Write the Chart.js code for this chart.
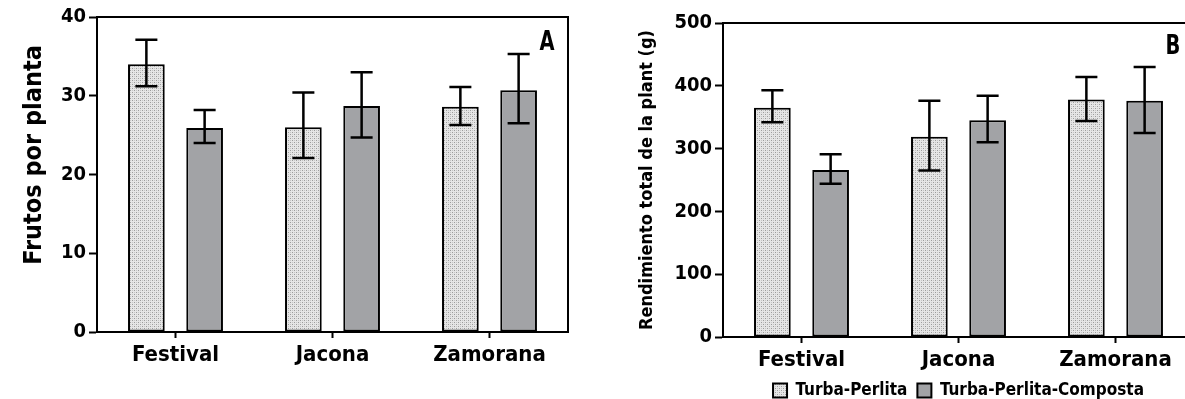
<!DOCTYPE html>
<html>
<head>
<meta charset="utf-8">
<script src="https://cdn.jsdelivr.net/npm/chart.js@4.4.0/dist/chart.umd.min.js"></script>
<style>
  html, body { margin: 0; padding: 0; background: #fff; overflow: hidden; width: 1185px; height: 399px; }
  #wrapA { position: absolute; left: 0; top: 0; width: 590px; height: 399px; }
  #wrapB { position: absolute; left: 595px; top: 0; width: 600px; height: 409px; }
</style>
</head>
<body>
<div id="wrapA"><canvas id="chartA"></canvas></div>
<div id="wrapB"><canvas id="chartB"></canvas></div>
<script>
const cultivars = ['Festival', 'Jacona', 'Zamorana'];
const seriesNames = ['Turba-Perlita', 'Turba-Perlita-Composta'];

// A - frutos por planta
const frutosTP = [34.0, 26.0, 28.6];
const frutosTPLow = [31.2, 22.1, 26.3];
const frutosTPHigh = [37.1, 30.4, 31.1];
const frutosTPC = [25.9, 28.7, 30.7];
const frutosTPCLow = [24.0, 24.7, 26.5];
const frutosTPCHigh = [28.2, 33.0, 35.3];
const frutosTicks = [0, 10, 20, 30, 40];

// B - rendimiento total (g)
const rendTP = [365, 319, 378];
const rendTPLow = [342, 265, 344];
const rendTPHigh = [393, 376, 414];
const rendTPC = [266, 345, 376];
const rendTPCLow = [244, 310, 325];
const rendTPCHigh = [291, 384, 430];
const rendTicks = [0, 100, 200, 300, 400, 500];

const FONT = "'Liberation Sans Narrow', 'DejaVu Sans Condensed', 'Arial Narrow', sans-serif";

function stipple() {
  const c = document.createElement('canvas');
  c.width = 4; c.height = 4;
  const g = c.getContext('2d');
  g.fillStyle = '#e6e6e6'; g.fillRect(0, 0, 4, 4);
  g.fillStyle = '#9c9c9c'; g.fillRect(0, 0, 1, 1); g.fillRect(2, 2, 1, 1);
  g.fillStyle = '#c6c6c6'; g.fillRect(2, 0, 1, 1); g.fillRect(0, 2, 1, 1);
  return g.createPattern(c, 'repeat');
}

// error bars, box frame and panel letter
const errorBars = {
  id: 'errorBars',
  afterDatasetsDraw(chart, args, opts) {
    const ctx = chart.ctx;
    const y = chart.scales.y;
    const a = chart.chartArea;
    ctx.save();
    ctx.strokeStyle = '#000';
    ctx.lineWidth = 2.5;
    chart.data.datasets.forEach((ds, i) => {
      chart.getDatasetMeta(i).data.forEach((bar, j) => {
        const top = y.getPixelForValue(ds.errHigh[j]);
        const bot = y.getPixelForValue(ds.errLow[j]);
        const half = bar.width * 0.3;
        ctx.beginPath();
        ctx.moveTo(bar.x, top); ctx.lineTo(bar.x, bot);
        ctx.moveTo(bar.x - half, top); ctx.lineTo(bar.x + half, top);
        ctx.moveTo(bar.x - half, bot); ctx.lineTo(bar.x + half, bot);
        ctx.stroke();
      });
    });
    ctx.lineWidth = 2;
    ctx.beginPath();
    ctx.moveTo(a.left, a.top); ctx.lineTo(a.right, a.top); ctx.lineTo(a.right, a.bottom);
    ctx.stroke();
    // panel letter, squeezed a little to look condensed
    ctx.fillStyle = '#000';
    ctx.font = 'bold 27px ' + FONT;
    ctx.textAlign = 'center';
    ctx.textBaseline = 'middle';
    ctx.translate(a.right - 21, a.top + opts.letterDy);
    ctx.scale(0.8, 1);
    ctx.fillText(opts.letter, 0, 0);
    ctx.restore();
  }
};

function makeChart(id, cfg) {
  return new Chart(document.getElementById(id), {
    type: 'bar',
    data: {
      labels: cultivars,
      datasets: [
        { label: seriesNames[0], data: cfg.tp, errLow: cfg.tpLow, errHigh: cfg.tpHigh,
          backgroundColor: stipple(), borderColor: '#000', borderWidth: 2, borderSkipped: false },
        { label: seriesNames[1], data: cfg.tpc, errLow: cfg.tpcLow, errHigh: cfg.tpcHigh,
          backgroundColor: '#a2a3a6', borderColor: '#000', borderWidth: 2, borderSkipped: false }
      ]
    },
    options: {
      responsive: true,
      maintainAspectRatio: false,
      animation: false,
      datasets: { bar: { categoryPercentage: 0.742, barPercentage: 0.63 } },
      layout: { padding: cfg.padding },
      plugins: {
        legend: cfg.legend,
        tooltip: { enabled: false },
        errorBars: { letter: cfg.letter, letterDy: cfg.letterDy }
      },
      scales: {
        x: {
          grid: { offset: false, drawOnChartArea: false, tickLength: 6, tickWidth: 2, tickColor: '#000' },
          border: { color: '#000', width: 2 },
          ticks: { color: '#000', font: { family: FONT, weight: 'bold', size: 22 }, padding: 4 },
          afterFit: (axis) => { axis.height = cfg.xHeight; }
        },
        y: {
          min: 0,
          max: cfg.max,
          afterBuildTicks: (axis) => { axis.ticks = cfg.ticks.map(v => ({ value: v })); },
          grid: { drawOnChartArea: false, tickLength: 8, tickWidth: 2, tickColor: '#000' },
          border: { color: '#000', width: 2 },
          ticks: { color: '#000', font: { family: FONT, weight: 'bold', size: 20 }, padding: 3 },
          title: { display: true, text: cfg.title, color: '#000',
                   font: { family: FONT, weight: 'bold', size: cfg.titleSize }, padding: { top: cfg.titlePad, bottom: 0 } },
          afterFit: (axis) => { axis.width = cfg.yWidth; }
        }
      }
    },
    plugins: [errorBars]
  });
}

makeChart('chartA', {
  tp: frutosTP, tpLow: frutosTPLow, tpHigh: frutosTPHigh,
  tpc: frutosTPC, tpcLow: frutosTPCLow, tpcHigh: frutosTPCHigh,
  max: 40, ticks: frutosTicks,
  title: '\u00a0\u00a0\u00a0\u00a0\u00a0Frutos por planta', titleSize: 25, titlePad: 19,
  yWidth: 97, xHeight: 67,
  padding: { top: 17, right: 22, left: 0, bottom: 0 },
  legend: { display: false },
  letter: 'A', letterDy: 26
});

makeChart('chartB', {
  tp: rendTP, tpLow: rendTPLow, tpHigh: rendTPHigh,
  tpc: rendTPC, tpcLow: rendTPCLow, tpcHigh: rendTPCHigh,
  max: 500, ticks: rendTicks,
  title: 'Rendimiento total de la plant (g)', titleSize: 18, titlePad: 42,
  yWidth: 128, xHeight: 35,
  padding: { top: 23, right: 1, left: 0, bottom: 0 },
  legend: {
    display: true, position: 'bottom', fullSize: false,
    labels: { color: '#000', boxWidth: 14, boxHeight: 14, padding: 10,
              font: { family: FONT, weight: 'bold', size: 17 } }
  },
  letter: 'B', letterDy: 24
});
</script>
</body>
</html>
